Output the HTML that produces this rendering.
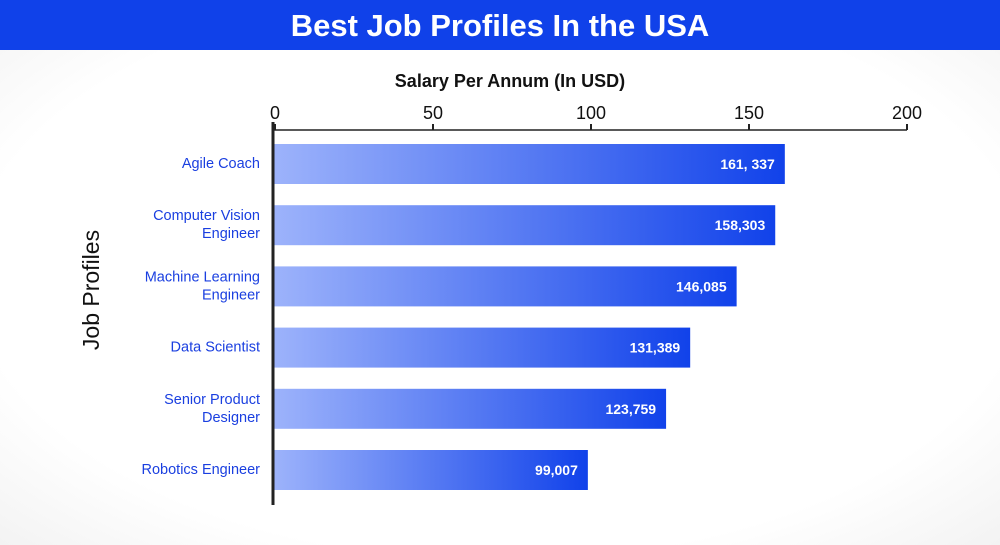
<!DOCTYPE html>
<html><head><meta charset="utf-8"><style>
html,body{margin:0;padding:0}
body{width:1000px;height:545px;overflow:hidden;position:relative;font-family:"Liberation Sans",sans-serif;background:radial-gradient(ellipse 75% 75% at 50% 50%,#fff 70%,#f0f0f0 100%)}
#title{position:absolute;left:0;top:0;width:1000px;height:50px;background:#1041e9;color:#fff;font-weight:bold;font-size:31px;text-align:center;line-height:52px}
</style></head><body>
<div id="title">Best Job Profiles In the USA</div>
<svg id="chart" width="1000" height="545" style="position:absolute;left:0;top:0">
<defs><linearGradient id="g" x1="0" x2="1" y1="0" y2="0"><stop offset="0" stop-color="#9db3fb"/><stop offset="1" stop-color="#1142ea"/></linearGradient></defs>
<text x="510" y="87" text-anchor="middle" font-size="18" font-weight="bold" fill="#111">Salary Per Annum (In USD)</text>
<text transform="translate(99,290) rotate(-90)" text-anchor="middle" font-size="23" fill="#111">Job Profiles</text>
</svg>
<script>
const categories=[["Agile Coach"],["Computer Vision","Engineer"],["Machine Learning","Engineer"],["Data Scientist"],["Senior Product","Designer"],["Robotics Engineer"]];
const values=[161.337,158.303,146.085,131.389,123.759,99.007];
const valueLabels=["161, 337","158,303","146,085","131,389","123,759","99,007"];
const ticks=[0,50,100,150,200];
const svg=document.getElementById('chart');const NS='http://www.w3.org/2000/svg';
const x=v=>275+v*(907-275)/200;
const yTop=i=>144+i*61.2;
function mk(t,a,p){const e=document.createElementNS(NS,t);for(const k in a)e.setAttribute(k,a[k]);(p||svg).appendChild(e);return e;}
values.forEach((v,i)=>{
const r=mk('rect',{x:273,y:yTop(i),width:x(v)-273,height:40,fill:'url(#g)'});


const t=mk('text',{x:x(v)-10,y:yTop(i)+25,'text-anchor':'end','font-size':14,'font-weight':'bold',fill:'#fff'});t.textContent=valueLabels[i];


const lines=categories[i];
lines.forEach((s,j)=>{const c=mk('text',{x:260,y:yTop(i)+24+(j-(lines.length-1)/2)*18,'text-anchor':'end','font-size':14.5,fill:'#1a3fe0'});c.textContent=s;

});
});
ticks.forEach(v=>{
const t=mk('text',{x:x(v),y:119,'text-anchor':'middle','font-size':18,fill:'#111'});t.textContent=v;


const l=mk('line',{x1:x(v),x2:x(v),y1:124,y2:130,stroke:'#222','stroke-width':2});


});
const ax=mk('line',{x1:273,x2:907,y1:130,y2:130,stroke:'#222','stroke-width':1.5});


const ay=mk('line',{x1:273,x2:273,y1:122,y2:505,stroke:'#222','stroke-width':3});


</script>
</body></html>
